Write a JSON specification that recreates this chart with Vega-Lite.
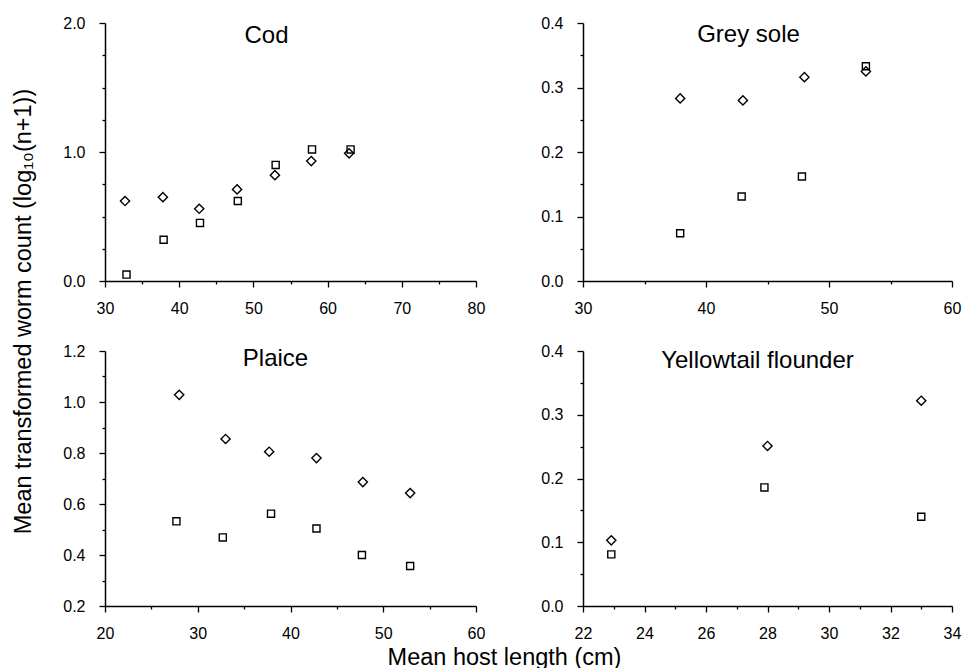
{
  "$schema": "https://vega.github.io/schema/vega-lite/v6.json",
  "background": "white",
  "padding": {"left": 11, "top": 15, "right": 5, "bottom": 0},
  "bounds": "flush",
  "columns": 2,
  "spacing": {"row": 70, "column": 107},
  "datasets": {
    "cod": [
      {"length": 32.7, "count": 0.62, "series": "A"},
      {"length": 37.8, "count": 0.65, "series": "A"},
      {"length": 42.7, "count": 0.56, "series": "A"},
      {"length": 47.8, "count": 0.71, "series": "A"},
      {"length": 52.9, "count": 0.82, "series": "A"},
      {"length": 57.8, "count": 0.93, "series": "A"},
      {"length": 62.9, "count": 0.99, "series": "A"},
      {"length": 32.9, "count": 0.05, "series": "B"},
      {"length": 37.9, "count": 0.32, "series": "B"},
      {"length": 42.8, "count": 0.45, "series": "B"},
      {"length": 47.9, "count": 0.62, "series": "B"},
      {"length": 53.0, "count": 0.9, "series": "B"},
      {"length": 57.9, "count": 1.02, "series": "B"},
      {"length": 63.1, "count": 1.02, "series": "B"}
    ],
    "greysole": [
      {"length": 37.9, "count": 0.283, "series": "A"},
      {"length": 43.0, "count": 0.28, "series": "A"},
      {"length": 48.0, "count": 0.316, "series": "A"},
      {"length": 53.0, "count": 0.325, "series": "A"},
      {"length": 37.9, "count": 0.074, "series": "B"},
      {"length": 42.9, "count": 0.131, "series": "B"},
      {"length": 47.8, "count": 0.162, "series": "B"},
      {"length": 53.0, "count": 0.333, "series": "B"}
    ],
    "plaice": [
      {"length": 28.0, "count": 1.028, "series": "A"},
      {"length": 33.0, "count": 0.855, "series": "A"},
      {"length": 37.7, "count": 0.805, "series": "A"},
      {"length": 42.8, "count": 0.78, "series": "A"},
      {"length": 47.8, "count": 0.686, "series": "A"},
      {"length": 52.9, "count": 0.643, "series": "A"},
      {"length": 27.7, "count": 0.532, "series": "B"},
      {"length": 32.7, "count": 0.469, "series": "B"},
      {"length": 37.9, "count": 0.562, "series": "B"},
      {"length": 42.8, "count": 0.504, "series": "B"},
      {"length": 47.7, "count": 0.4, "series": "B"},
      {"length": 52.9, "count": 0.357, "series": "B"}
    ],
    "yellowtail": [
      {"length": 22.92, "count": 0.103, "series": "A"},
      {"length": 28.0, "count": 0.251, "series": "A"},
      {"length": 33.0, "count": 0.322, "series": "A"},
      {"length": 22.92, "count": 0.081, "series": "B"},
      {"length": 27.9, "count": 0.186, "series": "B"},
      {"length": 33.0, "count": 0.14, "series": "B"}
    ]
  },
  "config": {
    "view": {"stroke": null},
    "font": "Liberation Sans",
    "axis": {
      "grid": false,
      "domainColor": "black",
      "domainWidth": 1.5,
      "tickColor": "black",
      "tickWidth": 1.3,
      "labelColor": "black",
      "labelFont": "Liberation Sans",
      "labelFontSize": 16,
      "labelOverlap": false,
      "labelFlush": false,
      "titleColor": "black",
      "titleFont": "Liberation Sans",
      "titleFontSize": 23.5,
      "titleFontWeight": "normal"
    },
    "axisX": {"labelPadding": 13},
    "axisY": {"labelPadding": 14},
    "title": {
      "font": "Liberation Sans",
      "fontSize": 24,
      "fontWeight": "normal",
      "color": "black",
      "anchor": "middle",
      "frame": "group",
      "baseline": "alphabetic"
    },
    "point": {"filled": false, "strokeWidth": 1.4, "opacity": 1}
  },
  "concat": [
    {
      "width": 371,
      "height": 258,
      "title": {"text": "Cod", "offset": -33, "dx": -24},
      "data": {"name": "cod"},
      "mark": "point",
      "encoding": {
        "x": {
          "field": "length", "type": "quantitative",
          "scale": {"domain": [30, 80], "nice": false, "zero": false},
          "axis": {
            "title": null,
            "values": [30, 35, 40, 45, 50, 55, 60, 65, 70, 75, 80],
            "labelExpr": "datum.value % 10 == 0 ? format(datum.value, 'd') : ''",
            "tickSize": {"condition": {"test": "datum.value % 10 == 0", "value": 6}, "value": 3}
          }
        },
        "y": {
          "field": "count", "type": "quantitative",
          "scale": {"domain": [0, 2], "nice": false, "zero": false},
          "axis": {
            "title": "Mean transformed worm count  (log₁₀(n+1))",
            "titleX": -82,
            "titleY": 288,
            "titleAngle": 270,
            "titleAlign": "center",
            "titleBaseline": "middle",
            "values": [0, 0.25, 0.5, 0.75, 1, 1.25, 1.5, 1.75, 2],
            "labelExpr": "abs(datum.value - round(datum.value)) < 1e-6 ? format(datum.value, '.1f') : ''",
            "tickSize": {"condition": {"test": "abs(datum.value - round(datum.value)) < 1e-6", "value": 6}, "value": 3}
          }
        },
        "shape": {"field": "series", "type": "nominal", "scale": {"domain": ["A", "B"], "range": ["diamond", "square"]}, "legend": null},
        "size": {"field": "series", "type": "nominal", "scale": {"domain": ["A", "B"], "range": [85, 50]}, "legend": null},
        "color": {"value": "black"}
      }
    },
    {
      "width": 369,
      "height": 258,
      "title": {"text": "Grey sole", "offset": -32, "dx": -19},
      "data": {"name": "greysole"},
      "mark": "point",
      "encoding": {
        "x": {
          "field": "length", "type": "quantitative",
          "scale": {"domain": [30, 60], "nice": false, "zero": false},
          "axis": {
            "title": null,
            "values": [30, 35, 40, 45, 50, 55, 60],
            "labelExpr": "datum.value % 10 == 0 ? format(datum.value, 'd') : ''",
            "tickSize": {"condition": {"test": "datum.value % 10 == 0", "value": 6}, "value": 3}
          }
        },
        "y": {
          "field": "count", "type": "quantitative",
          "scale": {"domain": [0, 0.4], "nice": false, "zero": false},
          "axis": {
            "title": null,
            "values": [0, 0.05, 0.1, 0.15, 0.2, 0.25, 0.3, 0.35, 0.4],
            "labelExpr": "abs(datum.value * 10 - round(datum.value * 10)) < 1e-6 ? format(datum.value, '.1f') : ''",
            "tickSize": {"condition": {"test": "abs(datum.value * 10 - round(datum.value * 10)) < 1e-6", "value": 6}, "value": 3}
          }
        },
        "shape": {"field": "series", "type": "nominal", "scale": {"domain": ["A", "B"], "range": ["diamond", "square"]}, "legend": null},
        "size": {"field": "series", "type": "nominal", "scale": {"domain": ["A", "B"], "range": [85, 50]}, "legend": null},
        "color": {"value": "black"}
      }
    },
    {
      "width": 371,
      "height": 255,
      "title": {"text": "Plaice", "offset": -28, "dx": -15},
      "data": {"name": "plaice"},
      "mark": "point",
      "encoding": {
        "x": {
          "field": "length", "type": "quantitative",
          "scale": {"domain": [20, 60], "nice": false, "zero": false},
          "axis": {
            "title": "Mean host length (cm)",
            "titleX": 399,
            "titleY": 58,
            "titleAlign": "center",
            "titleBaseline": "alphabetic",
            "values": [20, 25, 30, 35, 40, 45, 50, 55, 60],
            "labelExpr": "datum.value % 10 == 0 ? format(datum.value, 'd') : ''",
            "tickSize": {"condition": {"test": "datum.value % 10 == 0", "value": 6}, "value": 3}
          }
        },
        "y": {
          "field": "count", "type": "quantitative",
          "scale": {"domain": [0.2, 1.2], "nice": false, "zero": false},
          "axis": {
            "title": null,
            "values": [0.2, 0.3, 0.4, 0.5, 0.6, 0.7, 0.8, 0.9, 1.0, 1.1, 1.2],
            "labelExpr": "abs(datum.value * 5 - round(datum.value * 5)) < 1e-6 ? format(datum.value, '.1f') : ''",
            "tickSize": {"condition": {"test": "abs(datum.value * 5 - round(datum.value * 5)) < 1e-6", "value": 6}, "value": 3}
          }
        },
        "shape": {"field": "series", "type": "nominal", "scale": {"domain": ["A", "B"], "range": ["diamond", "square"]}, "legend": null},
        "size": {"field": "series", "type": "nominal", "scale": {"domain": ["A", "B"], "range": [85, 50]}, "legend": null},
        "color": {"value": "black"}
      }
    },
    {
      "width": 369,
      "height": 255,
      "title": {"text": "Yellowtail flounder", "offset": -30, "dx": -10},
      "data": {"name": "yellowtail"},
      "mark": "point",
      "encoding": {
        "x": {
          "field": "length", "type": "quantitative",
          "scale": {"domain": [22, 34], "nice": false, "zero": false},
          "axis": {
            "title": null,
            "values": [22, 23, 24, 25, 26, 27, 28, 29, 30, 31, 32, 33, 34],
            "labelExpr": "datum.value % 2 == 0 ? format(datum.value, 'd') : ''",
            "tickSize": {"condition": {"test": "datum.value % 2 == 0", "value": 6}, "value": 3}
          }
        },
        "y": {
          "field": "count", "type": "quantitative",
          "scale": {"domain": [0, 0.4], "nice": false, "zero": false},
          "axis": {
            "title": null,
            "values": [0, 0.05, 0.1, 0.15, 0.2, 0.25, 0.3, 0.35, 0.4],
            "labelExpr": "abs(datum.value * 10 - round(datum.value * 10)) < 1e-6 ? format(datum.value, '.1f') : ''",
            "tickSize": {"condition": {"test": "abs(datum.value * 10 - round(datum.value * 10)) < 1e-6", "value": 6}, "value": 3}
          }
        },
        "shape": {"field": "series", "type": "nominal", "scale": {"domain": ["A", "B"], "range": ["diamond", "square"]}, "legend": null},
        "size": {"field": "series", "type": "nominal", "scale": {"domain": ["A", "B"], "range": [85, 50]}, "legend": null},
        "color": {"value": "black"}
      }
    }
  ]
}
